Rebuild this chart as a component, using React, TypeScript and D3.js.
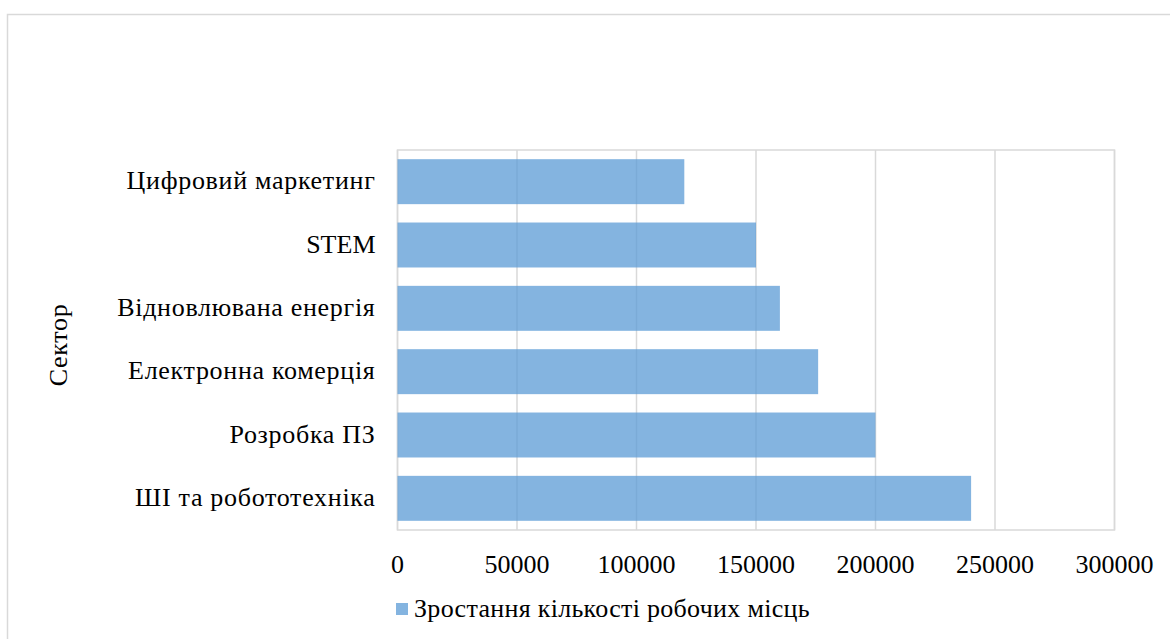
import React from "react";
import * as d3 from "d3";

const categories = [
  "Цифровий маркетинг",
  "STEM",
  "Відновлювана енергія",
  "Електронна комерція",
  "Розробка ПЗ",
  "ШІ та робототехніка",
];
const jobGrowth = [120000, 150000, 160000, 176000, 200000, 240000];
const xTicks = [0, 50000, 100000, 150000, 200000, 250000, 300000];
const seriesName = "Зростання кількості робочих місць";
const axisTitle = "Сектор";

const W = 1170;
const H = 639;
const plot = { left: 397.5, right: 1114.5, top: 150, bottom: 530 };
const FONT = "'Liberation Serif', 'Times New Roman', serif";
const FS = 26;
const GRID = "#d9d9d9";
const textStyle = { fontFamily: FONT, fontSize: FS, fill: "#000" } as const;
const labelStyle = { ...textStyle, letterSpacing: "0.7px" } as const;
const legendStyle = { ...textStyle, letterSpacing: "0.3px" } as const;

export default function App() {
  const x = d3.scaleLinear().domain([0, 300000]).range([plot.left, plot.right]);
  const y = d3
    .scaleBand<string>()
    .domain(categories)
    .range([plot.top, plot.bottom])
    .paddingInner(0.29)
    .paddingOuter(0.145);

  return (
    <svg width={W} height={H} style={{ position: "absolute", left: 0, top: 0, background: "#fff" }}>
      <rect x={0} y={0} width={W} height={H} fill="#fff" />
      {/* chart frame */}
      <rect x={7.5} y={14.5} width={1300} height={800} fill="none" stroke={GRID} strokeWidth={1.5} />

      {/* vertical gridlines */}
      {xTicks.map((t) => (
        <line
          key={t}
          x1={x(t)}
          x2={x(t)}
          y1={plot.top}
          y2={plot.bottom}
          stroke={GRID}
          strokeWidth={1.5}
        />
      ))}
      <rect
        x={plot.left}
        y={plot.top}
        width={plot.right - plot.left}
        height={plot.bottom - plot.top}
        fill="none"
        stroke={GRID}
        strokeWidth={1.5}
      />

      {/* bars */}
      {categories.map((c, i) => (
        <rect
          key={c}
          x={x(0)}
          y={y(c)!}
          width={x(jobGrowth[i]) - x(0)}
          height={y.bandwidth()}
          fill="#5b9bd5"
          fillOpacity={0.75}
        />
      ))}

      {/* category labels */}
      {categories.map((c) => (
        <text
          key={c}
          x={plot.left - 22}
          y={y(c)! + y.bandwidth() / 2}
          dy="0.3em"
          textAnchor="end"
          style={c === "STEM" ? textStyle : labelStyle}
        >
          {c}
        </text>
      ))}

      {/* x tick labels */}
      {xTicks.map((t) => (
        <text key={t} x={x(t)} y={573} textAnchor="middle" style={textStyle}>
          {t}
        </text>
      ))}

      {/* axis title */}
      <text transform="translate(67, 345) rotate(-90)" textAnchor="middle" style={labelStyle}>
        {axisTitle}
      </text>

      {/* legend */}
      <rect x={396} y={603} width={12} height={12} fill="#5b9bd5" fillOpacity={0.75} />
      <text x={414} y={617} style={legendStyle}>
        {seriesName}
      </text>
    </svg>
  );
}
